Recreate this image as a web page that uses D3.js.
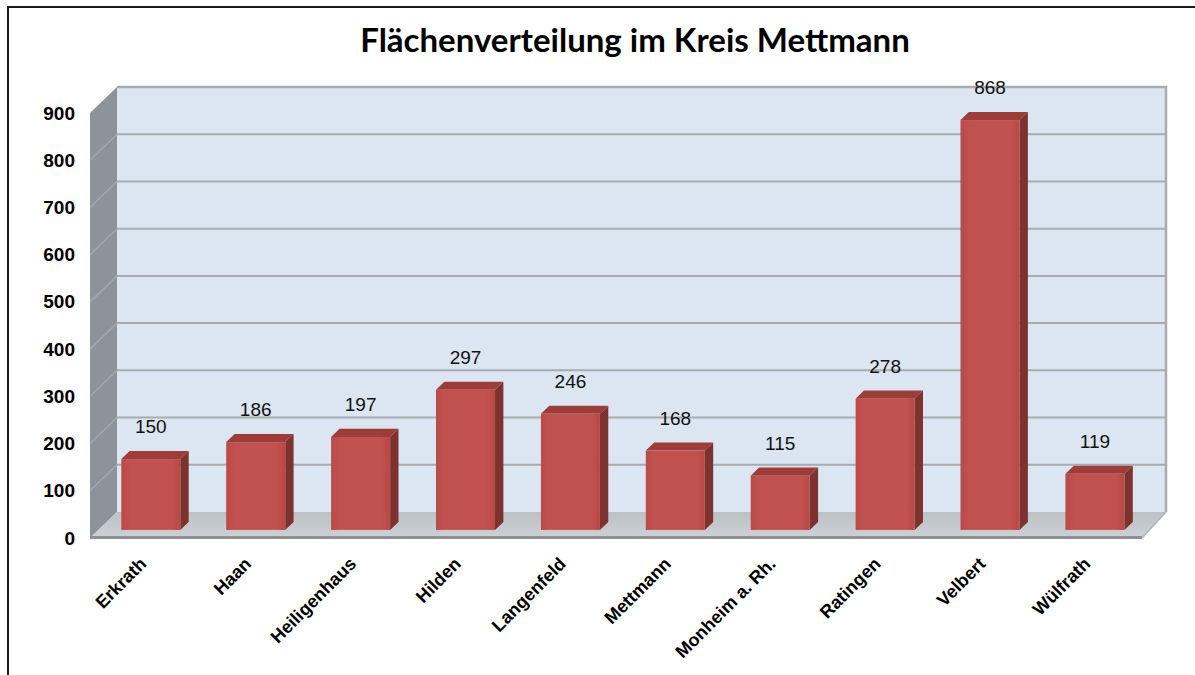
<!DOCTYPE html>
<html>
<head>
<meta charset="utf-8">
<script src="https://cdn.jsdelivr.net/npm/d3@7"></script>
<style>
  body { margin: 0; background: #fff; }
  svg { display: block; }
</style>
</head>
<body>
<div id="chart"></div>
<script>
// data
var towns = ["Erkrath", "Haan", "Heiligenhaus", "Hilden", "Langenfeld",
             "Mettmann", "Monheim a. Rh.", "Ratingen", "Velbert", "Wülfrath"];
var areas = [150, 186, 197, 297, 246, 168, 115, 278, 868, 119];
var yTicks = [0, 100, 200, 300, 400, 500, 600, 700, 800, 900];
var titleText = "Flächenverteilung im Kreis Mettmann";

let width = 1195, height = 675;

// back wall of the 3d box
let wall = {left: 117, right: 1166, top: 87, bottom: 512};
// depth of the box (front plane is shifted down-left)
let depthX = -27, depthY = 26;
// bar depth position inside the box (0 = back, 1 = front)
let barBack = 0.38, barFront = 0.69;

let svg = d3.select("#chart").append("svg")
    .attr("width", width)
    .attr("height", height);

let defs = svg.append("defs");

let faceGrad = defs.append("linearGradient").attr("id", "face")
    .attr("x1", "0").attr("x2", "1").attr("y1", "0").attr("y2", "0");
faceGrad.append("stop").attr("offset", "0").attr("stop-color", "#b94a47");
faceGrad.append("stop").attr("offset", "0.15").attr("stop-color", "#c2524f");
faceGrad.append("stop").attr("offset", "0.85").attr("stop-color", "#c2524f");
faceGrad.append("stop").attr("offset", "1").attr("stop-color", "#b64845");

let floorGrad = defs.append("linearGradient").attr("id", "floor")
    .attr("x1", "0").attr("x2", "0").attr("y1", "0").attr("y2", "1");
floorGrad.append("stop").attr("offset", "0").attr("stop-color", "#bcc1c6");
floorGrad.append("stop").attr("offset", "1").attr("stop-color", "#cdd1d5");

// outer frame
svg.append("rect")
    .attr("x", 8).attr("y", 7)
    .attr("width", 1200).attr("height", 700)
    .attr("fill", "none")
    .attr("stroke", "#1a1a1a")
    .attr("stroke-width", 2);

// title
svg.append("text")
    .attr("x", 635)
    .attr("y", 52)
    .attr("text-anchor", "middle")
    .style("font-family", "Lato, 'Open Sans', sans-serif")
    .style("font-weight", "bold")
    .style("font-size", "33px")
    .text(titleText);

// scales on the back wall
let x = d3.scaleBand()
    .domain(towns)
    .range([wall.left, wall.right]);

let y = d3.scaleLinear()
    .domain([0, 900])
    .range([wall.bottom, wall.top]);

// same value scale on the front plane
let yFront = d3.scaleLinear()
    .domain([0, 900])
    .range([wall.bottom + depthY, wall.top + depthY]);

function pts(arr) {
    return arr.map(p => p[0] + "," + p[1]).join(" ");
}

// back wall
svg.append("rect")
    .attr("x", wall.left).attr("y", wall.top)
    .attr("width", wall.right - wall.left)
    .attr("height", wall.bottom - wall.top)
    .attr("fill", "#dce6f2");

// side wall
svg.append("polygon")
    .attr("points", pts([
        [wall.left + depthX, y(900) + depthY],
        [wall.left, y(900)],
        [wall.left, y(0)],
        [wall.left + depthX, y(0) + depthY]]))
    .attr("fill", "#8c939b");

// gridlines (back + side)
let grid = yTicks.filter(d => d > 0 && d < 900);
svg.selectAll(".grid-back")
    .data(grid)
    .enter().append("line")
    .attr("class", "grid-back")
    .attr("x1", wall.left).attr("x2", wall.right)
    .attr("y1", d => y(d)).attr("y2", d => y(d))
    .attr("stroke", "#a9abae")
    .attr("stroke-width", 2);

svg.selectAll(".grid-side")
    .data(grid)
    .enter().append("line")
    .attr("class", "grid-side")
    .attr("x1", wall.left + depthX).attr("x2", wall.left)
    .attr("y1", d => yFront(d)).attr("y2", d => y(d))
    .attr("stroke", "#a3a8ae")
    .attr("stroke-width", 1.5);

// wall outline top + right
svg.append("polyline")
    .attr("points", pts([[wall.left, y(900)], [wall.right, y(900)], [wall.right, y(0)]]))
    .attr("fill", "none")
    .attr("stroke", "#a9abae")
    .attr("stroke-width", 2.5);

// floor
svg.append("polygon")
    .attr("points", pts([
        [wall.left, y(0)],
        [wall.right, y(0)],
        [wall.right + depthX + 3, y(0) + depthY],
        [wall.left + depthX, y(0) + depthY]]))
    .attr("fill", "url(#floor)");

svg.append("line")
    .attr("x1", wall.left + depthX).attr("x2", wall.right + depthX + 3)
    .attr("y1", yFront(0) - 0.5).attr("y2", yFront(0) - 0.5)
    .attr("stroke", "#8e9092")
    .attr("stroke-width", 3);

svg.append("line")
    .attr("x1", wall.right).attr("x2", wall.right + depthX + 3)
    .attr("y1", y(0)).attr("y2", yFront(0))
    .attr("stroke", "#b0b3b6")
    .attr("stroke-width", 1.5);

// bars
let faceW = x.bandwidth() * 0.5625;
let fx = barFront * depthX, fy = barFront * depthY;
let bx = barBack * depthX, by = barBack * depthY;

let bars = svg.selectAll(".bar")
    .data(towns.map((t, i) => ({town: t, value: areas[i]})))
    .enter().append("g")
    .attr("class", "bar");

function left(d) { return x(d.town) + (x.bandwidth() - faceW) / 2; }

// top face
bars.append("polygon")
    .attr("points", d => pts([
        [left(d) + fx, y(d.value) + fy],
        [left(d) + bx, y(d.value) + by],
        [left(d) + bx + faceW, y(d.value) + by],
        [left(d) + fx + faceW, y(d.value) + fy]]))
    .attr("fill", "#9c3d3a");

// side face
bars.append("polygon")
    .attr("points", d => pts([
        [left(d) + fx + faceW, y(d.value) + fy],
        [left(d) + bx + faceW, y(d.value) + by],
        [left(d) + bx + faceW, y(0) + by],
        [left(d) + fx + faceW, y(0) + fy]]))
    .attr("fill", "#7e3230");

// front face
bars.append("rect")
    .attr("x", d => left(d) + fx)
    .attr("y", d => y(d.value) + fy)
    .attr("width", faceW)
    .attr("height", d => y(0) - y(d.value))
    .attr("fill", "url(#face)");

// value labels
bars.append("text")
    .attr("x", d => left(d) + fx + faceW / 2)
    .attr("y", d => y(d.value) + fy - 26)
    .attr("text-anchor", "middle")
    .style("font-family", "'Liberation Sans', Arial, sans-serif")
    .style("font-size", "19px")
    .attr("fill", "#111")
    .text(d => d.value);

// y axis on the front plane
let yAxis = d3.axisLeft(yFront)
    .tickValues(yTicks)
    .tickSize(0)
    .tickPadding(0);

let yAxisGroup = svg.append("g")
    .attr("class", "y-axis")
    .attr("transform", "translate(75,0)")
    .call(yAxis);

yAxisGroup.select(".domain").remove();
yAxisGroup.selectAll("text")
    .style("font-family", "'Liberation Sans', Arial, sans-serif")
    .style("font-weight", "bold")
    .style("font-size", "19px")
    .attr("fill", "#000");

// x axis labels, rotated
let xFront = x.copy().range([wall.left + depthX, wall.right + depthX]);
let xAxis = d3.axisBottom(xFront).tickSize(0).tickPadding(0);

let xAxisGroup = svg.append("g")
    .attr("class", "x-axis")
    .attr("transform", "translate(0," + (yFront(0) + 27) + ")")
    .call(xAxis);

xAxisGroup.select(".domain").remove();
xAxisGroup.selectAll("text")
    .style("font-family", "'Liberation Sans', Arial, sans-serif")
    .style("font-weight", "bold")
    .style("font-size", "18px")
    .attr("fill", "#000")
    .style("text-anchor", "end")
    .attr("dx", "0")
    .attr("dy", "0")
    .attr("transform", "translate(5,0) rotate(-45)");
</script>
</body>
</html>
